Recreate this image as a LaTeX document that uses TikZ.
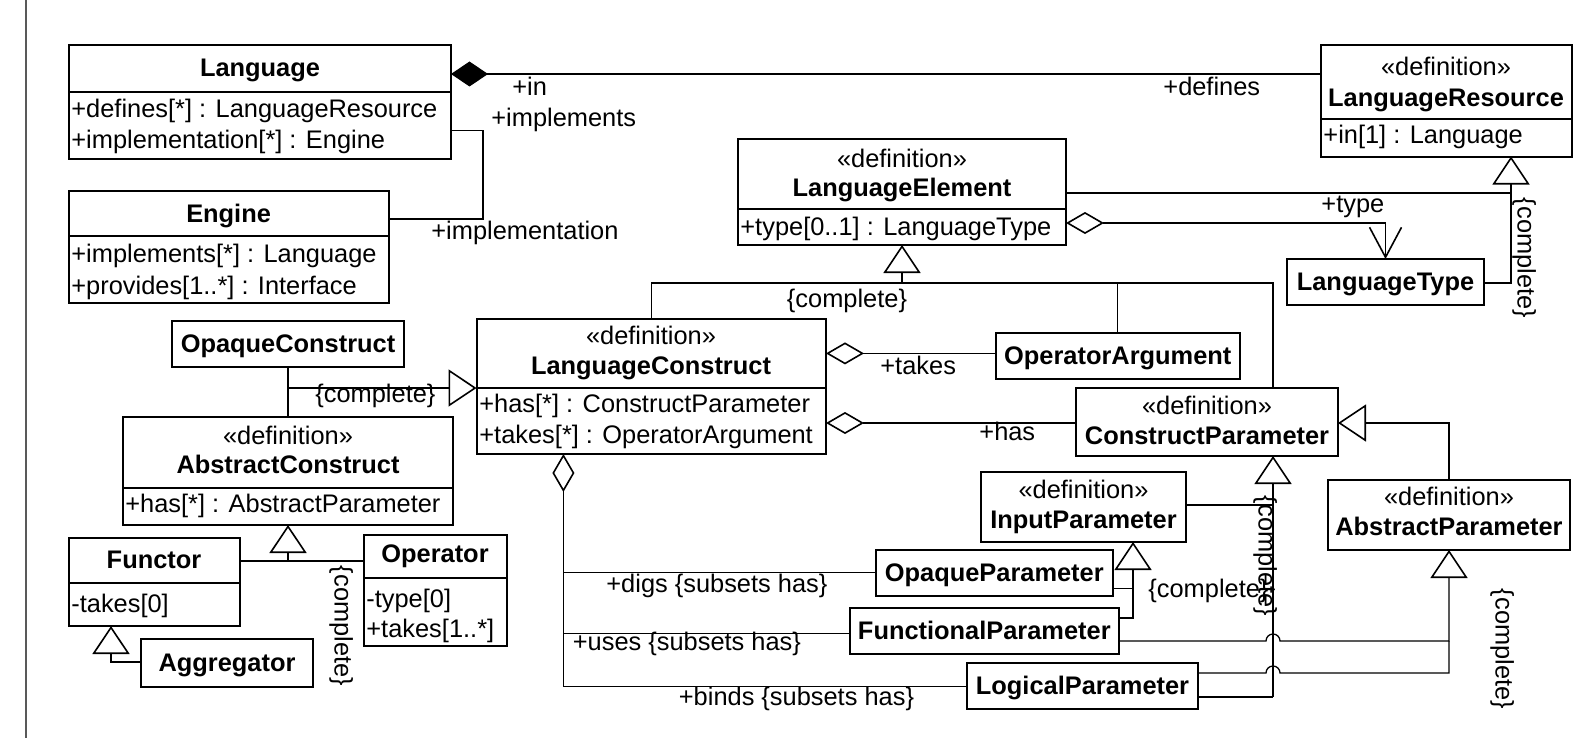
\documentclass[tikz,border=0pt]{standalone}
\usepackage{fontspec}
\setmainfont{Liberation Sans}
\usetikzlibrary{arrows.meta,fit}
\newcommand{\umlsize}{\fontsize{12.7}{15}\selectfont}
\tikzset{
  classbox/.style={draw,line width=1pt,inner sep=0pt,outer sep=0pt},
  divline/.style={line width=1pt},
  ctitle/.style={font=\umlsize\bfseries,inner sep=0pt,text height=10.5pt,text depth=2pt},
  cstereo/.style={inner sep=0pt,text height=10.5pt,text depth=2pt},
  cattr/.style={anchor=west,inner sep=0pt,text height=10.5pt,text depth=2pt},
  rlabel/.style={cattr},
  cmplabel/.style={cstereo,rotate=-90},
  assoc/.style={line width=0.65pt},
  genarrow/.style={assoc,-{Triangle[open,length=14pt,width=18.5pt,line width=0.8pt]}},
  aggarrow/.style={assoc,{Diamond[open,length=19pt,width=11pt,line width=0.8pt]}-},
  comparrow/.style={assoc,{Diamond[length=18.5pt,width=12.5pt]}-},
  aggnavarrow/.style={assoc,{Diamond[open,length=19pt,width=11pt,line width=0.8pt]}-{Straight Barb[length=15pt,width=16pt,line width=0.8pt]}},
}

\begin{document}
\begin{tikzpicture}[x=0.5pt,y=-0.5pt,font=\umlsize]
  \fill[white] (0,0) rectangle (1583,738);
  \useasboundingbox (0,0) rectangle (1583,738);
  \draw[black!65,line width=0.8pt] (26,0) -- (26,738);

  % language and engine
  \node[classbox,fit={(68.6,45.4) (451,158.5)}] (Language) {};
  \draw[divline] (Language.west |- 0,92) -- (Language.east |- 0,92);
  \node[ctitle] (lang-t) at (260,67.6) {Language};
  \node[cattr] (lang-a1) at (71,109) {+defines[*] : LanguageResource};
  \node[cattr] (lang-a2) at (71,140) {+implementation[*] : Engine};

  \node[classbox,fit={(68.6,190.8) (388.7,303)}] (Engine) {};
  \draw[divline] (Engine.west |- 0,236) -- (Engine.east |- 0,236);
  \node[ctitle] (eng-t) at (228.6,214) {Engine};
  \node[cattr] (eng-a1) at (71,254) {+implements[*] : Language};
  \node[cattr] (eng-a2) at (71,286) {+provides[1..*] : Interface};

  % resources, elements, types
  \node[classbox,fit={(1320.6,45.4) (1572,156.5)}] (LangRes) {};
  \draw[divline] (LangRes.west |- 0,119) -- (LangRes.east |- 0,119);
  \node[cstereo] (lres-s) at (1446,67) {«definition»};
  \node[ctitle] (lres-t) at (1446,98) {LanguageResource};
  \node[cattr] (lres-a1) at (1323,135) {+in[1] : Language};

  \node[classbox,fit={(738,139) (1066,245)}] (LangElem) {};
  \draw[divline] (LangElem.west |- 0,209) -- (LangElem.east |- 0,209);
  \node[cstereo] (lel-s) at (902,158.5) {«definition»};
  \node[ctitle] (lel-t) at (902,188) {LanguageElement};
  \node[cattr] (lel-a1) at (740,227) {+type[0..1] : LanguageType};

  \node[classbox,fit={(1287,259) (1484,305)}] (LangType) {};
  \node[ctitle] (lty-t) at (LangType) {LanguageType};

  % constructs
  \node[classbox,fit={(476.5,319) (826,454)}] (LangCons) {};
  \draw[divline] (LangCons.west |- 0,388) -- (LangCons.east |- 0,388);
  \node[cstereo] (lco-s) at (651,336) {«definition»};
  \node[ctitle] (lco-t) at (651,365.5) {LanguageConstruct};
  \node[cattr] (lco-a1) at (479,404) {+has[*] : ConstructParameter};
  \node[cattr] (lco-a2) at (479,435) {+takes[*] : OperatorArgument};

  \node[classbox,fit={(172,321) (404,366.5)}] (OpaqueCons) {};
  \node[ctitle] (oco-t) at (OpaqueCons) {OpaqueConstruct};

  \node[classbox,fit={(123,417) (453,525)}] (AbsCons) {};
  \draw[divline] (AbsCons.west |- 0,488) -- (AbsCons.east |- 0,488);
  \node[cstereo] (aco-s) at (288,436) {«definition»};
  \node[ctitle] (aco-t) at (288,465) {AbstractConstruct};
  \node[cattr] (aco-a1) at (125,504) {+has[*] : AbstractParameter};

  \node[classbox,fit={(68.6,538) (240,626)}] (Functor) {};
  \draw[divline] (Functor.west |- 0,582.5) -- (Functor.east |- 0,582.5);
  \node[ctitle] (fun-t) at (154,560) {Functor};
  \node[cattr] (fun-a1) at (71,604) {-takes[0]};

  \node[classbox,fit={(363.5,535) (507,646)}] (Operator) {};
  \draw[divline] (Operator.west |- 0,577.5) -- (Operator.east |- 0,577.5);
  \node[ctitle] (opr-t) at (435,554) {Operator};
  \node[cattr] (opr-a1) at (366,599) {-type[0]};
  \node[cattr] (opr-a2) at (366,629) {+takes[1..*]};

  \node[classbox,fit={(141,639) (313,686.5)}] (Aggregator) {};
  \node[ctitle] (agr-t) at (Aggregator) {Aggregator};

  % parameters
  \node[classbox,fit={(995.5,333) (1240,378.6)}] (OpArg) {};
  \node[ctitle] (oar-t) at (OpArg) {OperatorArgument};

  \node[classbox,fit={(1076,387.7) (1338,456)}] (ConsPar) {};
  \node[cstereo] (cpa-s) at (1207,405.8) {«definition»};
  \node[ctitle] (cpa-t) at (1207,436) {ConstructParameter};

  \node[classbox,fit={(1328,480) (1570,550)}] (AbsPar) {};
  \node[cstereo] (apa-s) at (1449,497) {«definition»};
  \node[ctitle] (apa-t) at (1449,527) {AbstractParameter};

  \node[classbox,fit={(981,471.5) (1186,542)}] (InPar) {};
  \node[cstereo] (ipa-s) at (1083.5,489.6) {«definition»};
  \node[ctitle] (ipa-t) at (1083.5,520) {InputParameter};

  \node[classbox,fit={(876,550) (1112.6,596)}] (OpqPar) {};
  \node[ctitle] (opa-t) at (OpqPar) {OpaqueParameter};
  \node[classbox,fit={(850,608) (1118.6,654)}] (FunPar) {};
  \node[ctitle] (fpa-t) at (FunPar) {FunctionalParameter};
  \node[classbox,fit={(967,663) (1198,709)}] (LogPar) {};
  \node[ctitle] (lpa-t) at (LogPar) {LogicalParameter};

  % associations
  \draw[comparrow] (Language.east |- 0,74) -- (LangRes.west |- 0,74);
  \node[rlabel] (in-l) at (512,87) {+in};
  \node[rlabel] (defines-l) at (1163,87) {+defines};
  \draw[assoc] (Language.east |- 0,130.7) -- ++(32,0) |- (Engine.east |- 0,219);
  \node[rlabel] (impls-l) at (491,118) {+implements};
  \node[rlabel] (impl-l) at (431,231) {+implementation};

  \draw[aggnavarrow] (LangElem.east |- 0,223) -| (LangType.north);
  \node[rlabel] (type-l) at (1321,204) {+type};
  \draw[aggarrow] (LangCons.east |- 0,353.4) -- (OpArg.west |- 0,353.4);
  \node[rlabel] (takes-l) at (880,365.5) {+takes};
  \draw[aggarrow] (LangCons.east |- 0,423) -- (ConsPar.west |- 0,423);
  \node[rlabel] (has-l) at (979,432) {+has};

  \draw[aggarrow] (LangCons.south -| 563.4,0) |- (LogPar.west |- 0,686.5);
  \draw[assoc] (563.4,572.5) -- (OpqPar.west |- 0,572.5);
  \draw[assoc] (563.4,633.5) -- (FunPar.west |- 0,633.5);
  \node[rlabel] (digs-l) at (606,583.5) {+digs \{subsets has\}};
  \node[rlabel] (uses-l) at (572.5,642) {+uses \{subsets has\}};
  \node[rlabel] (binds-l) at (678.5,696.6) {+binds \{subsets has\}};

  % generalizations
  \coordinate (lrJoin) at (1511,193);
  \draw[genarrow] (LangElem.east |- lrJoin) -- (lrJoin) -- (lrJoin |- LangRes.south);
  \draw[assoc] (LangType.east |- 0,283) -| (lrJoin);
  \node[cmplabel] (c1-l) at (1526,258) {\{complete\}};

  \coordinate (leJoin) at (LangElem.south |- 0,283);
  \draw[genarrow] (leJoin) -- (LangElem.south);
  \draw[assoc] (LangCons.north) |- (leJoin) -| (1273,0 |- ConsPar.north);
  \draw[assoc] (OpArg.north) -- (OpArg.north |- leJoin);
  \node[cstereo] (c2-l) at (847,299) {\{complete\}};

  \coordinate (lcJoin) at (288,388);
  \draw[genarrow] (lcJoin) -- (LangCons.west |- lcJoin);
  \draw[assoc] (OpaqueCons.south) -- (AbsCons.north);
  \node[rlabel] (c3-l) at (315,394) {\{complete\}};

  \coordinate (acJoin) at (288,561);
  \draw[genarrow] (acJoin) -- (AbsCons.south);
  \draw[assoc] (Functor.east |- acJoin) -- (Operator.west |- acJoin);
  \node[cmplabel] (c4-l) at (343,626) {\{complete\}};

  \draw[genarrow] (Aggregator.west |- 0,662) -| (111,0 |- Functor.south);

  \draw[genarrow] (AbsPar.north) |- (ConsPar.east |- 0,423);

  \coordinate (cpJoin) at (1273,697);
  \draw[genarrow] (cpJoin) -- (cpJoin |- ConsPar.south);
  \draw[assoc] (InPar.east |- 0,505) -- (cpJoin |- 0,505);
  \draw[assoc] (LogPar.east |- cpJoin) -- (cpJoin);
  \node[cmplabel] (c5-l) at (1267,556) {\{complete\}};

  \coordinate (ipJoin) at (1133,618);
  \draw[genarrow] (FunPar.east |- ipJoin) -| (ipJoin |- InPar.south);
  \draw[assoc] (OpqPar.east |- 0,588.6) -- (ipJoin |- 0,588.6);
  \node[rlabel] (c6-l) at (1148,588.6) {\{complete\}};

  \draw[genarrow] (FunPar.east |- 0,641) -- (1266,641)
     arc[start angle=180,end angle=0,radius=3.5pt] -| (AbsPar.south);
  \draw[assoc] (LogPar.east |- 0,673) -- (1266,673)
     arc[start angle=180,end angle=0,radius=3.5pt] -| (AbsPar.south |- 0,641);
  \node[cmplabel] (c7-l) at (1504,649) {\{complete\}};
\end{tikzpicture}
\end{document}
